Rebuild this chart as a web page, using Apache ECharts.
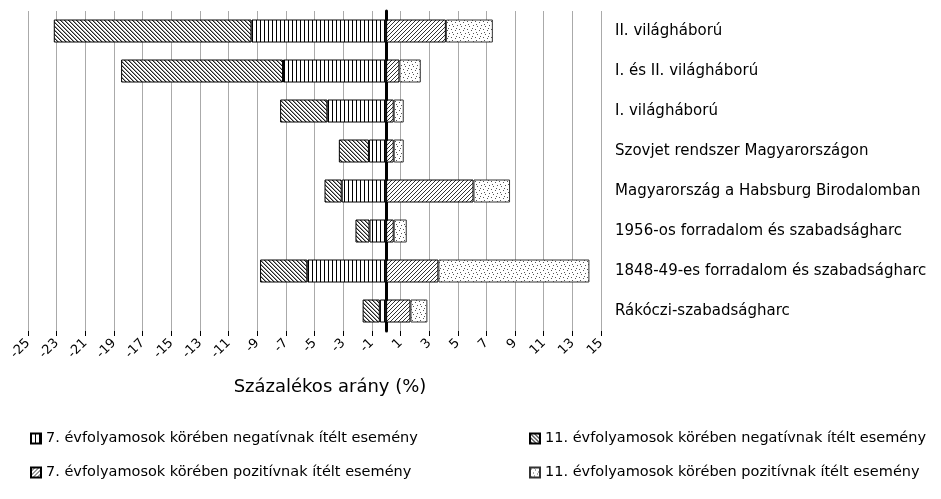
<!DOCTYPE html>
<html>
<head>
<meta charset="utf-8">
<script src="https://cdn.jsdelivr.net/npm/echarts@6/dist/echarts.min.js"></script>
<style>
  html, body { margin: 0; padding: 0; background: #fff; }
</style>
</head>
<body>
<div id="chart" style="width: 941px; height: 499px;"></div>
<script>
// kategóriák (alulról felfelé)
const categories = [
  'Rákóczi-szabadságharc',
  '1848-49-es forradalom és szabadságharc',
  '1956-os forradalom és szabadságharc',
  'Magyarország a Habsburg Birodalomban',
  'Szovjet rendszer Magyarországon',
  'I. világháború',
  'I. és II. világháború',
  'II. világháború'
];
const neg7 = [-0.44, -5.5, -1.16, -3.1, -1.2, -4.1, -7.2, -9.4];
const neg11 = [-1.2, -3.3, -0.98, -1.2, -2.1, -3.3, -11.3, -13.8];
const pos7 = [1.7, 3.65, 0.53, 6.1, 0.53, 0.53, 0.93, 4.17];
const pos11 = [1.18, 10.54, 0.91, 2.55, 0.7, 0.7, 1.49, 3.28];
const seriesNames = [
  '7. évfolyamosok körében negatívnak ítélt esemény',
  '11. évfolyamosok körében negatívnak ítélt esemény',
  '7. évfolyamosok körében pozitívnak ítélt esemény',
  '11. évfolyamosok körében pozitívnak ítélt esemény'
];

const FONT = 'DejaVu Sans';

// mintázatok canvasból
function tile(size, draw) {
  const c = document.createElement('canvas');
  c.width = size; c.height = size;
  const ctx = c.getContext('2d');
  ctx.fillStyle = '#fff';
  ctx.fillRect(0, 0, size, size);
  draw(ctx);
  return { image: c, repeat: 'repeat' };
}
const pVertical = tile(4, ctx => {
  ctx.fillStyle = '#000';
  ctx.fillRect(0, 0, 1, 4);
});
const pBackslash = tile(4, ctx => {
  for (let i = 0; i < 4; i++) {
    ctx.fillStyle = '#222';
    ctx.fillRect(i, i, 1, 1);
    ctx.fillStyle = '#999';
    ctx.fillRect((i + 1) % 4, i, 1, 1);
  }
});
const pSlash = tile(4, ctx => {
  ctx.fillStyle = '#333';
  for (let i = 0; i < 4; i++) ctx.fillRect(i, 3 - i, 1, 1);
});
const pDots = tile(8, ctx => {
  ctx.fillStyle = '#555';
  [[1, 1], [5, 2], [3, 5], [7, 6], [0, 4], [4, 0]].forEach(p => ctx.fillRect(p[0], p[1], 1, 1));
});

const myChart = echarts.init(document.getElementById('chart'));

function bar(name, data, pattern, border) {
  return {
    name: name,
    type: 'bar',
    stack: 'total',
    yAxisIndex: 0,
    barWidth: 23,
    data: data,
    itemStyle: { color: pattern, borderColor: border, borderWidth: 1 }
  };
}

const legendText = { fontFamily: FONT, fontSize: 14.5, color: '#000' };

myChart.setOption({
  animation: false,
  grid: { left: 28, right: 340, top: 11, bottom: 168 },
  xAxis: {
    type: 'value',
    min: -25,
    max: 15,
    interval: 2,
    name: 'Százalékos arány (%)',
    nameLocation: 'middle',
    nameGap: 47,
    nameTextStyle: { fontFamily: FONT, fontSize: 18, color: '#000', padding: [0, 0, 0, 31] },
    axisLine: { onZero: false, lineStyle: { color: '#000', width: 1 } },
    axisTick: { show: true, length: 5, lineStyle: { color: '#000' } },
    axisLabel: { rotate: 45, fontFamily: FONT, fontSize: 13, color: '#000', margin: 10 },
    splitLine: { show: true, lineStyle: { color: '#aaa', width: 1 } }
  },
  yAxis: [
    {
      type: 'category',
      data: categories,
      axisLine: { onZero: true, lineStyle: { color: '#000', width: 3 } },
      axisTick: { show: false },
      axisLabel: { show: false }
    },
    {
      type: 'category',
      position: 'right',
      data: categories,
      axisLine: { show: false },
      axisTick: { show: false },
      axisLabel: { fontFamily: FONT, fontSize: 15, color: '#000', margin: 14 }
    }
  ],
  legend: [
    {
      left: 25, top: 426, orient: 'vertical', itemGap: 19,
      itemWidth: 10, itemHeight: 10, icon: 'rect',
      textStyle: legendText,
      data: [seriesNames[0], seriesNames[2]]
    },
    {
      left: 524, top: 426, orient: 'vertical', itemGap: 19,
      itemWidth: 10, itemHeight: 10, icon: 'rect',
      textStyle: legendText,
      data: [seriesNames[1], seriesNames[3]]
    }
  ],
  series: [
    bar(seriesNames[0], neg7, pVertical, '#000'),
    bar(seriesNames[1], neg11, pBackslash, '#000'),
    bar(seriesNames[2], pos7, pSlash, '#000'),
    bar(seriesNames[3], pos11, pDots, '#333')
  ]
});
window.onresize = function () {
  myChart.resize();
};
</script>
</body>
</html>
